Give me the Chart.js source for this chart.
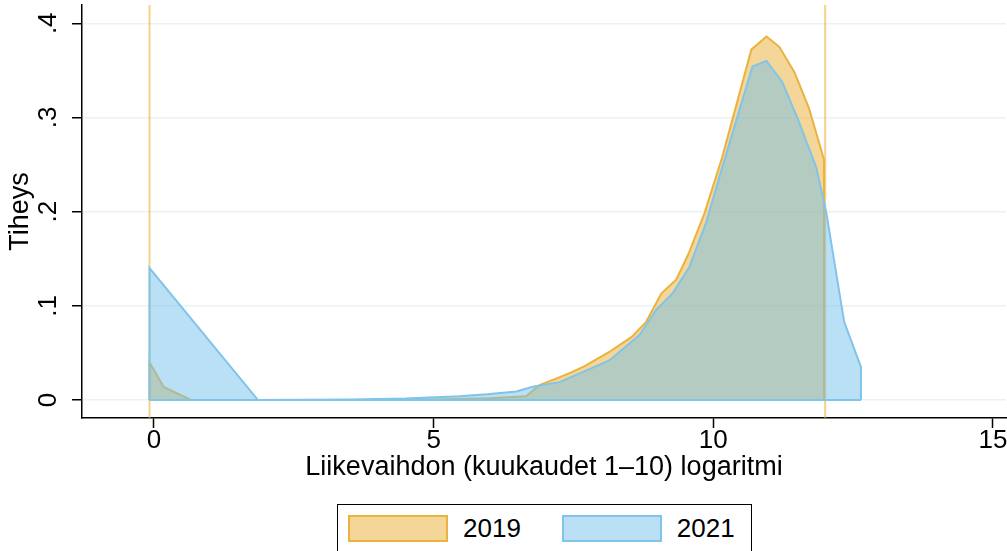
<!DOCTYPE html>
<html>
<head>
<meta charset="utf-8">
<script src="https://cdn.jsdelivr.net/npm/chart.js@4.4.1/dist/chart.umd.min.js"></script>
<style>
  body { margin: 0; background: #fff; }
  #wrap { position: relative; width: 1007px; height: 551px; overflow: hidden; }
  #legend-container {
    position: absolute; left: 337px; top: 504px; width: 415px; height: 70px;
    border: 1.5px solid #000; box-sizing: border-box; background: #fff;
  }
</style>
</head>
<body>
<div id="wrap">
  <canvas id="chart" width="1007" height="551"></canvas>
  <div id="legend-container"></div>
</div>
<script>
// data
const seriesLabels = ['2019', '2021']
const xTickValues = [0, 5, 10, 15]
const yTickValues = [0, 0.1, 0.2, 0.3, 0.4]

const x2019 = [-0.08, 0.17, 0.66, 2.0, 4.0, 5.0, 6.0, 6.65, 6.9, 7.2, 7.45, 7.7, 8.14, 8.54, 8.8, 9.07, 9.34, 9.57, 9.84, 10.16, 10.68, 10.95, 11.18, 11.45, 11.71, 11.98]
const y2019 = [0.040, 0.014, 0.0, 0.0, 0.0, 0.0005, 0.002, 0.004, 0.016, 0.023, 0.029, 0.036, 0.051, 0.067, 0.083, 0.113, 0.128, 0.157, 0.198, 0.258, 0.372, 0.386, 0.375, 0.348, 0.310, 0.255]

const x2021 = [-0.08, 1.86, 3.5, 4.5, 5.46, 5.95, 6.48, 6.77, 7.25, 7.6, 8.14, 8.68, 8.98, 9.27, 9.57, 9.87, 10.16, 10.7, 10.95, 11.23, 11.5, 11.84, 12.02, 12.34, 12.64]
const y2021 = [0.140, 0.0, 0.0005, 0.0015, 0.004, 0.006, 0.009, 0.014, 0.019, 0.028, 0.042, 0.069, 0.096, 0.113, 0.141, 0.188, 0.247, 0.354, 0.360, 0.338, 0.300, 0.247, 0.199, 0.083, 0.035]

// vertical lines at the ends of the 2019 range
const boundaryX2019 = [-0.08, 12.0]

const xMin = -1.287
const xMax = 15.233
const yMin = -0.0191
const yMax = 0.4194

const orangeLine = 'rgb(234,178,62)'
const orangeFill = 'rgba(233,174,50,0.5)'
const blueLine = 'rgb(128,196,234)'
const blueFill = 'rgba(117,193,235,0.5)'
const boundaryColor = 'rgba(238,180,60,0.6)'
const gridColor = '#EAF2F3'
const textColor = '#000000'

Chart.defaults.font.family = "'Liberation Sans', Arial, sans-serif"
Chart.defaults.font.size = 26
Chart.defaults.color = textColor

function toArea(xs, ys) {
  const pts = xs.map((x, i) => ({ x, y: ys[i] }))
  return [{ x: xs[0], y: 0 }, ...pts, { x: xs[xs.length - 1], y: 0 }]
}

function baseLine(xs) {
  return [{ x: xs[0], y: 0 }, { x: xs[xs.length - 1], y: 0 }]
}

const datasets = [
  {
    label: seriesLabels[0],
    data: toArea(x2019, y2019),
    borderColor: orangeLine,
    backgroundColor: orangeFill,
    borderWidth: 2,
    fill: 'origin',
    order: 4,
  },
  {
    label: seriesLabels[1],
    data: toArea(x2021, y2021),
    borderColor: blueLine,
    backgroundColor: blueFill,
    borderWidth: 2,
    fill: 'origin',
    order: 2,
  },
  {
    label: '',
    data: baseLine(x2019),
    borderColor: orangeLine,
    borderWidth: 2,
    fill: false,
    order: 3,
  },
  {
    label: '',
    data: baseLine(x2021),
    borderColor: blueLine,
    borderWidth: 2,
    fill: false,
    order: 1,
  },
]

boundaryX2019.forEach((bx) => {
  datasets.push({
    label: '',
    data: [{ x: bx, y: yMin }, { x: bx, y: yMax }],
    borderColor: boundaryColor,
    borderWidth: 2,
    fill: false,
    order: 5,
  })
})

// design to HTML Legend
const getOrCreateLegendList = (chart, id) => {
  const legendContainer = document.getElementById(id)
  let listContainer = legendContainer.querySelector('ul')

  if (!listContainer) {
    listContainer = document.createElement('ul')
    listContainer.style.display = 'flex'
    listContainer.style.flexDirection = 'row'
    listContainer.style.margin = 0
    listContainer.style.padding = '10px 0 0 10px'
    listContainer.style.listStyle = 'none'
    legendContainer.appendChild(listContainer)
  }

  return listContainer
}

const htmlLegendPlugin = {
  id: 'htmlLegend',
  afterUpdate(chart, args, options) {
    const ul = getOrCreateLegendList(chart, options.containerID)

    while (ul.firstChild) {
      ul.firstChild.remove()
    }

    const items = chart.options.plugins.legend.labels
      .generateLabels(chart)
      .filter((item) => item.text)
      .sort((a, b) => a.datasetIndex - b.datasetIndex)

    items.forEach((item) => {
      const li = document.createElement('li')
      li.style.display = 'flex'
      li.style.flexDirection = 'row'
      li.style.alignItems = 'center'
      li.style.marginRight = '41px'

      // Color box
      const boxSpan = document.createElement('span')
      boxSpan.style.background = item.fillStyle
      boxSpan.style.border = '2px solid ' + item.strokeStyle
      boxSpan.style.boxSizing = 'border-box'
      boxSpan.style.display = 'inline-block'
      boxSpan.style.flexShrink = 0
      boxSpan.style.width = '100px'
      boxSpan.style.height = '27px'
      boxSpan.style.marginRight = '15px'

      // Text
      const textContainer = document.createElement('p')
      textContainer.style.color = textColor
      textContainer.style.margin = 0
      textContainer.style.padding = 0
      textContainer.style.fontFamily = "'Liberation Sans', Arial, sans-serif"
      textContainer.style.fontSize = '26px'
      textContainer.style.lineHeight = '27px'
      textContainer.appendChild(document.createTextNode(item.text))

      li.appendChild(boxSpan)
      li.appendChild(textContainer)
      ul.appendChild(li)
    })
  },
}

const config = {
  type: 'line',
  data: { datasets },
  options: {
    responsive: false,
    animation: false,
    events: [],
    elements: {
      point: { radius: 0 },
      line: { tension: 0 },
    },
    layout: {
      padding: { left: 0, right: 1, top: 5, bottom: 63 },
    },
    scales: {
      x: {
        type: 'linear',
        min: xMin,
        max: xMax,
        afterBuildTicks: (scale) => {
          scale.ticks = xTickValues.map((v) => ({ value: v }))
        },
        afterFit: (scale) => {
          scale.height = 70
          scale.paddingLeft = 0
          scale.paddingRight = 0
        },
        ticks: {
          color: textColor,
          padding: 0,
          maxRotation: 0,
          font: { size: 26, lineHeight: 1 },
        },
        grid: {
          drawOnChartArea: false,
          drawTicks: true,
          tickLength: 10,
          tickColor: '#000',
          tickWidth: 1.5,
        },
        border: { color: '#000', width: 1.5 },
        title: {
          display: true,
          text: 'Liikevaihdon (kuukaudet 1–10) logaritmi',
          color: textColor,
          font: { size: 27 },
          padding: { top: 0, bottom: 4 },
        },
      },
      y: {
        type: 'linear',
        min: yMin,
        max: yMax,
        afterBuildTicks: (scale) => {
          scale.ticks = yTickValues.map((v) => ({ value: v }))
        },
        afterFit: (scale) => {
          scale.width = 82
          scale.paddingTop = 0
          scale.paddingBottom = 0
        },
        ticks: {
          color: textColor,
          padding: 12,
          minRotation: 90,
          maxRotation: 90,
          crossAlign: 'center',
          font: { size: 26 },
          callback: (value) => (value === 0 ? '0' : String(value).replace(/^0/, '')),
        },
        grid: {
          color: gridColor,
          lineWidth: 1.5,
          drawTicks: true,
          tickLength: 10,
          tickColor: '#000',
          tickWidth: 1.5,
        },
        border: { color: '#000', width: 1.5 },
        title: {
          display: true,
          text: 'Tiheys',
          color: textColor,
          font: { size: 27 },
          padding: { top: 4, bottom: 0 },
        },
      },
    },
    plugins: {
      legend: { display: false },
      tooltip: { enabled: false },
      htmlLegend: { containerID: 'legend-container' },
    },
  },
  plugins: [htmlLegendPlugin],
}

const ctx = document.getElementById('chart').getContext('2d')
new Chart(ctx, config)
</script>
</body>
</html>
